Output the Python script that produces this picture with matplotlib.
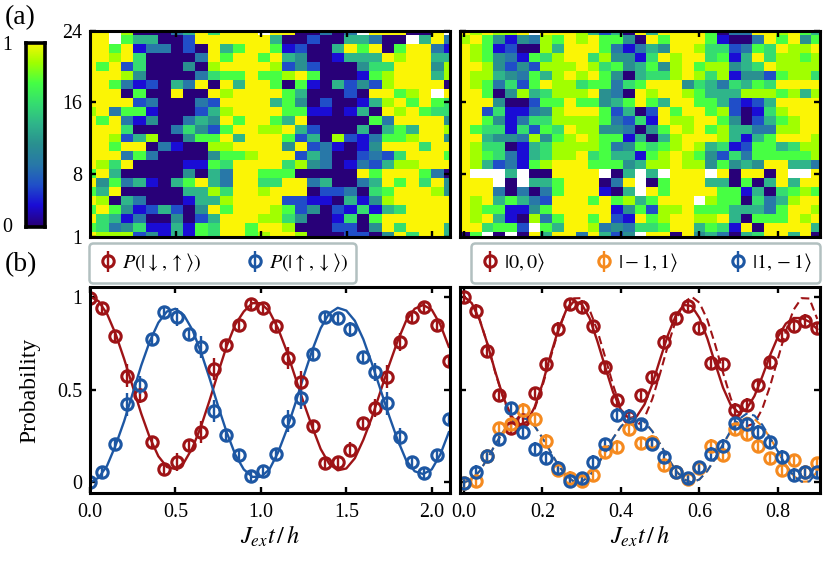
import numpy as np
import matplotlib
matplotlib.use("Agg")
import matplotlib.pyplot as plt
from matplotlib.colors import LinearSegmentedColormap

plt.rcParams['font.family'] = ['Liberation Serif', 'DejaVu Serif']
plt.rcParams['mathtext.fontset'] = 'stix'

# heat-map cells, top row (24) first; digit d means probability d/9, x means no data
heat_left_rows = [
    "99x8000359" "6999x99003" "03x999009x",
    "99x7550029" "9999950020" "055300x593",
    "9979133020" "9579971200" "5979079931",
    "9989600003" "9799795400" "1555989955",
    "9792600040" "8999982420" "0046699948",
    "9998400003" "6779778970" "0017899958",
    "9973120539" "0959970710" "5242899990",
    "9990700900" "9899997500" "02099789x9",
    "9999230003" "2999957402" "0015897976",
    "8937710002" "5899997711" "0150989766",
    "9793140035" "4979975900" "0007399994",
    "9996000364" "2799889520" "0050575998",
    "9982580047" "7959997250" "8213778994",
    "9979903100" "8899994923" "1014999699",
    "9993730000" "4778999253" "0023269997",
    "9869000011" "7699996843" "0132588999",
    "7950000040" "5399777000" "0097999730",
    "9473510579" "5399669935" "0035979694",
    "7590000055" "8699899902" "2306799984",
    "9805300015" "5899992211" "0514899999",
    "7974125204" "9799987240" "2161569999",
    "9651300402" "5999886400" "1607999999",
    "7634611517" "6997998000" "2204969995",
    "9888241517" "6997899800" "0220496995",
]
heat_right_rows = [
    "989889x999" "8525095999" "9703399897" "5",
    "8974143879" "8977409799" "9710039794" "7",
    "9871200859" "9973135499" "8662376988" "9",
    "9874317689" "9684416989" "9671596887" "8",
    "9984242888" "9867457489" "7884569888" "8",
    "9885437589" "8974056689" "8681442788" "6",
    "9873627988" "6773679994" "6536576999" "9",
    "9970485688" "8943098998" "7555888785" "8",
    "9994002779" "7745797599" "7752125999" "9",
    "9926113489" "9972502979" "9782016899" "9",
    "9974136688" "8873261988" "9974025789" "9",
    "9766162769" "8844304798" "9785533889" "9",
    "9954438478" "9877150589" "9985157999" "8",
    "9866015688" "8873476789" "8561277568" "8",
    "9876315688" "9675517898" "7426377777" "8",
    "9852317899" "9777458898" "8474549955" "3",
    "9xxx5x0099" "99x05x5x99" "9x909909xx" "9",
    "999x0x5579" "99039x0799" "9550705959" "9",
    "9993030379" "99105x9799" "9977150678" "7",
    "9895753299" "9797857999" "x877063589" "9",
    "9877114799" "9991472889" "7775553799" "8",
    "9895108379" "9792197899" "8895077798" "9",
    "996772x759" "9834366799" "5761909999" "5",
    "07x0x09599" "39524x9909" "4530569959" "0",
]

# left data panel
x_left_step = 0.0725
red_left = [.995, .94, .79, .575, .47, .22, .07, .11, .20, .27, .61, .74, .85, .96, .94,
            .84, .67, .54, .305, .105, .11, .175, .32, .40, .57, .755, .89, .945, .85, .655]
blue_left = [0.0, .055, .205, .42, .525, .77, .92, .89, .80, .73, .385, .255, .15, .035, .06,
             .155, .33, .455, .69, .89, .885, .825, .675, .595, .425, .245, .11, .05, .145, .34]
err_red_left = [.03, .03, .03, .06, .04, .03, .03, .05, .03, .06, .06, .03, .03, .03, .03,
                .03, .06, .06, .03, .03, .03, .04, .03, .05, .06, .05, .03, .03, .03, .03]
err_blue_left = [.03, .03, .03, .06, .05, .03, .03, .05, .03, .06, .06, .03, .03, .03, .03,
                 .03, .06, .06, .03, .03, .03, .04, .03, .05, .06, .05, .03, .03, .03, .03]
fit_x_left = [0, .05, .1, .15, .2, .25, .3, .35, .4, .45, .5, .55, .6, .65, .7, .75, .8, .85, .9, .95, 1.0,
              1.05, 1.1, 1.15, 1.2, 1.25, 1.3, 1.35, 1.4, 1.45, 1.5, 1.55, 1.6, 1.65, 1.7, 1.75, 1.8, 1.85,
              1.9, 1.95, 2.0, 2.05, 2.1]
fit_red_left = [1.0, .976, .907, .799, .664, .516, .37, .241, .141, .083, .072, .107, .187, .302, .442, .591,
                .734, .85, .92, .965, .965, .92, .83, .71, .57, .43, .30, .18, .10, .065, .075, .13, .23, .35,
                .49, .63, .76, .87, .935, .955, .93, .85, .73]
fit_blue_left = [0, .025, .09, .20, .33, .48, .63, .76, .86, .92, .935, .90, .82, .70, .56, .41, .27, .15, .07,
                 .03, .03, .07, .16, .28, .42, .57, .71, .83, .91, .94, .925, .87, .77, .64, .50, .36, .23, .12,
                 .06, .045, .07, .15, .27]

# right data panel
x_right_step = 0.03
red_right = [.996, .923, .71, .47, .295, .335, .48, .637, .826, .959, .946, .842, .62, .443, .354, .47, .566,
             .758, .883, .95, .83, .645, .637, .39, .417, .524, .65, .794, .844, .871, .83]
orange_right = [-.005, .007, .142, .291, .314, .39, .339, .224, .066, .025, .007, .04, .162, .192, .285, .21,
                .219, .093, .054, .016, .075, .197, .147, .285, .26, .197, .129, .066, .12, .057, .102]
blue_right = [-.005, .057, .144, .233, .399, .273, .18, .133, .079, .009, .022, .111, .206, .363, .359, .314,
              .206, .138, .057, .022, .081, .153, .197, .318, .314, .273, .215, .138, .04, .054, .054]
fit_x_right = [0, .02, .04, .06, .08, .10, .12, .14, .16, .18, .20, .22, .24, .26, .28, .30, .32, .34, .36, .38,
               .40, .42, .44, .46, .48, .50, .52, .54, .56, .58, .60, .62, .64, .66, .68, .70, .72, .74, .76,
               .78, .80, .82, .84, .86, .88, .90]
solid_red_right = [1.0, .965, .875, .745, .595, .46, .36, .31, .325, .405, .53, .68, .82, .925, .975, .96, .885,
                   .76, .62, .485, .39, .345, .355, .42, .53, .665, .795, .90, .955, .95, .885, .775, .64, .51,
                   .415, .375, .395, .465, .57, .685, .785, .855, .885, .885, .865, .825]
dash_red_right = [1.0, .968, .878, .745, .59, .454, .35, .302, .318, .395, .519, .667, .812, .927, .991, .992, .93,
                  .817, .673, .524, .398, .319, .302, .348, .45, .589, .74, .874, .966, 1.0, .967, .876, .742,
                  .591, .451, .349, .302, .318, .396, .52, .668, .815, .93, .992, .99, .88]
dash_orange_right = [0, .016, .061, .128, .205, .273, .325, .349, .341, .303, .24, .167, .094, .037, .005, .004,
                     .035, .092, .164, .238, .301, .34, .349, .326, .275, .206, .13, .063, .017, 0, .016, .062,
                     .129, .205, .275, .326, .349, .341, .302, .24, .166, .093, .035, .004, .005, .06]
dash_blue_right = [0, .016, .061, .128, .205, .273, .325, .349, .341, .303, .24, .167, .094, .037, .005, .004,
                   .035, .092, .164, .238, .301, .34, .349, .326, .275, .206, .13, .063, .017, 0, .016, .062,
                   .129, .205, .28, .34, .37, .36, .31, .24, .166, .093, .035, .004, .005, .06]

cmap_colors = ['#280078', '#1a0cd6', '#2050c8', '#2878a8', '#2a9090',
               '#2fb58a', '#35dd70', '#45ff45', '#a0ff00', '#fbf505']
RED, BLUE, ORANGE = '#9e1316', '#1d57a3', '#f58a1f'

W, H = 830, 566
fig = plt.figure(figsize=(W / 100, H / 100), dpi=100)


def axes_px(x0, y0, x1, y1):
    return fig.add_axes([x0 / W, 1 - y1 / H, (x1 - x0) / W, (y1 - y0) / H])


def parse(rows):
    return np.array([[np.nan if c == 'x' else int(c) / 9 for c in r] for r in rows][::-1])


def frame(ax, lw=2.2):
    for s in ax.spines.values():
        s.set_linewidth(lw)
    ax.tick_params(which='both', direction='in', top=True, right=True, length=4.5, width=1.7,
                   labelsize=14.4)
    ax.tick_params(axis='x', pad=7)
    ax.tick_params(axis='y', pad=5.5)


cmap = LinearSegmentedColormap.from_list('probe', cmap_colors)
cmap.set_bad('white')
rows_y = np.arange(1, 25)

ax_h1 = axes_px(90, 30.5, 449.5, 236.5)
ax_h2 = axes_px(460, 30.5, 820, 236.5)
for ax, rows, step, lim, xt in [(ax_h1, heat_left_rows, x_left_step, (0, 2.1), [.5, 1, 1.5, 2]),
                                (ax_h2, heat_right_rows, x_right_step, (-.01, .907), [0, .2, .4, .6, .8])]:
    z = parse(rows)
    xs = np.arange(z.shape[1]) * step
    ax.pcolormesh(xs, rows_y, z, cmap=cmap, vmin=0, vmax=1, shading='nearest')
    ax.set_xlim(*lim)
    ax.set_ylim(1, 24)
    ax.set_xticks(xt)
    ax.set_xticklabels([])
    ax.set_yticks([1, 8, 16, 24])
    frame(ax)
ax_h1.set_yticklabels(['1', '8', '16', '24'])
ax_h2.set_yticklabels([])

ax_c = axes_px(26, 42.5, 45, 226.5)
ax_c.imshow(np.linspace(1, 0, 256)[:, None], cmap=cmap, aspect='auto', vmin=0, vmax=1)
ax_c.set_xticks([])
ax_c.set_yticks([])
for s in ax_c.spines.values():
    s.set_linewidth(2.6)
fig.text(7 / W, 1 - 45 / H, '1', fontsize=14.4, ha='center', va='center')
fig.text(7 / W, 1 - 227 / H, '0', fontsize=14.4, ha='center', va='center')
fig.text(5 / W, 1 - 18 / H, '(a)', fontsize=20, ha='left', va='center')
fig.text(5 / W, 1 - 265 / H, '(b)', fontsize=20, ha='left', va='center')

ekw = dict(fmt='o', mfc='none', ms=8.2, mew=2.2, elinewidth=1.7, capsize=0)

ax_l = axes_px(90, 287, 449.5, 493)
xl = np.arange(len(red_left)) * x_left_step
ax_l.plot(fit_x_left, fit_red_left, color=RED, lw=1.7)
ax_l.plot(fit_x_left, fit_blue_left, color=BLUE, lw=1.7)
h1 = ax_l.errorbar(xl, red_left, yerr=err_red_left, color=RED, label=r'$P(|\downarrow,\uparrow\rangle)$', **ekw)
h2 = ax_l.errorbar(xl, blue_left, yerr=err_blue_left, color=BLUE, label=r'$P(|\uparrow,\downarrow\rangle)$', **ekw)
ax_l.set_xlim(0, 2.104)
ax_l.set_ylim(-.057, 1.052)
ax_l.set_xticks([0, .5, 1, 1.5, 2])
ax_l.set_xticklabels(['0.0', '0.5', '1.0', '1.5', '2.0'])
ax_l.set_yticks([0, .5, 1])
ax_l.set_yticklabels(['0', '0.5', '1'])
frame(ax_l)
ax_l.set_xlabel(r'$J_{ex}t\,/\,h$', fontsize=17.5, labelpad=1.5)
ax_l.set_ylabel('Probability', fontsize=17, labelpad=12)

ax_r = axes_px(460, 287, 820, 493)
xr = np.arange(len(red_right)) * x_right_step
ax_r.plot(fit_x_right, solid_red_right, color=RED, lw=1.7)
ax_r.plot(fit_x_right, dash_red_right, color=RED, lw=1.5, ls=(0, (4, 2.2)))
ax_r.plot(fit_x_right, dash_orange_right, color=ORANGE, lw=1.5, ls=(0, (4, 2.2)))
ax_r.plot(fit_x_right, dash_blue_right, color=BLUE, lw=1.5, ls=(0, (4, 2.2)))
h3 = ax_r.errorbar(xr, red_right, yerr=.035, color=RED, label=r'$|0,0\rangle$', **ekw)
h4 = ax_r.errorbar(xr, orange_right, yerr=.035, color=ORANGE, label=r'$|-1,1\rangle$', **ekw)
h5 = ax_r.errorbar(xr, blue_right, yerr=.035, color=BLUE, label=r'$|1,-1\rangle$', **ekw)
ax_r.set_xlim(-.01, .907)
ax_r.set_ylim(-.057, 1.052)
ax_r.set_xticks([0, .2, .4, .6, .8])
ax_r.set_xticklabels(['0.0', '0.2', '0.4', '0.6', '0.8'])
ax_r.set_yticks([0, .5, 1])
ax_r.set_yticklabels([])
frame(ax_r)
ax_r.set_xlabel(r'$J_{ex}t\,/\,h$', fontsize=17.5, labelpad=1.5)


def legend_px(handles, x0, y0, x1, y1):
    lab = [h.get_label() for h in handles]
    leg = fig.legend(handles, lab, loc='center', ncol=len(handles), mode='expand',
                     bbox_to_anchor=(x0 / W, 1 - y1 / H, (x1 - x0) / W, (y1 - y0) / H),
                     bbox_transform=fig.transFigure, borderaxespad=0, fontsize=14.5, handlelength=1.1,
                     handletextpad=.15, borderpad=.4, frameon=True, fancybox=True, framealpha=1)
    leg.get_frame().set_edgecolor('#b2c0c0')
    leg.get_frame().set_linewidth(1.8)
    return leg


legend_px([h1, h2], 89, 244, 356, 282)
legend_px([h3, h4, h5], 471, 244, 820, 282)

fig.savefig('out.png', dpi=100)
